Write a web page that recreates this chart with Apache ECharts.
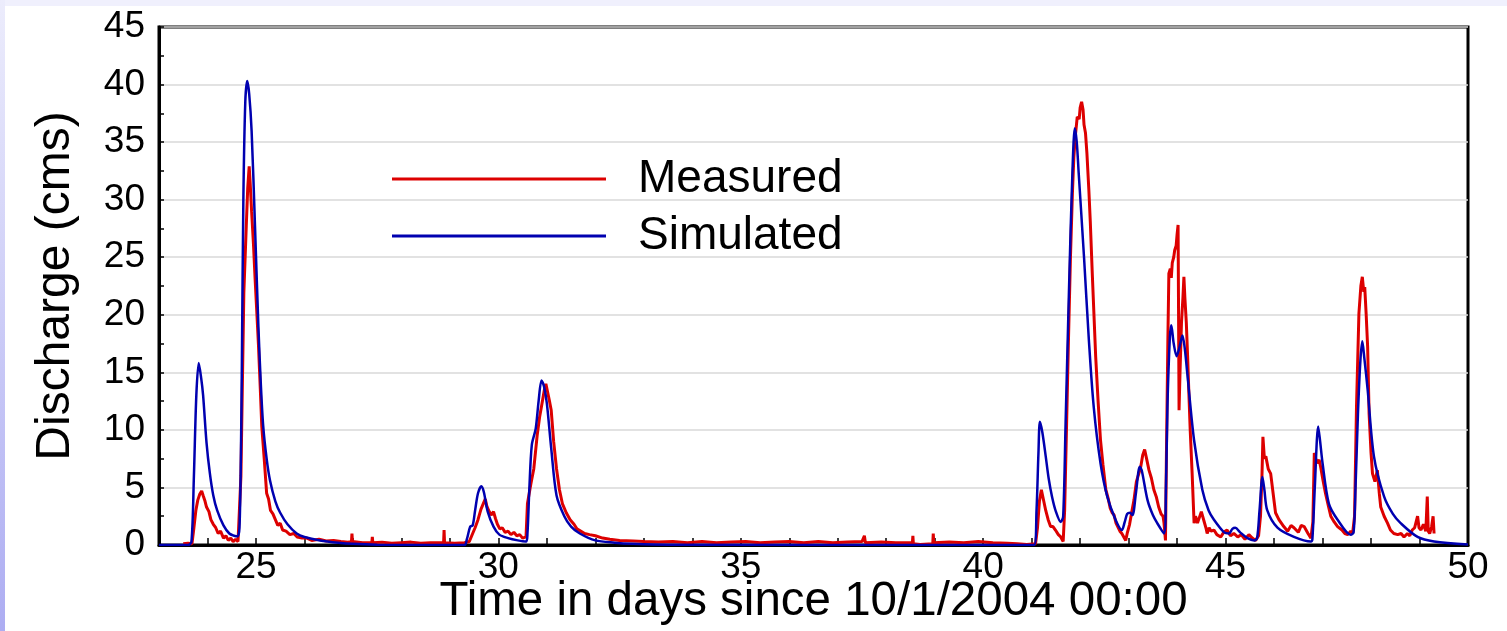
<!DOCTYPE html>
<html>
<head>
<meta charset="utf-8">
<script src="https://cdn.jsdelivr.net/npm/echarts@6/dist/echarts.min.js"></script>
<style>
html,body{margin:0;padding:0;background:#fff;}
#chart{width:1507px;height:631px;}
</style>
</head>
<body>
<div id="chart"></div>
<script>
var seriesNames = ['Measured', 'Simulated'];
var xTitle = 'Time in days since 10/1/2004 00:00';
var yTitle = 'Discharge (cms)';

var measuredDays = [23.5,23.6,23.68,23.72,23.76,23.8,23.84,23.88,23.91,23.95,23.98,24.03,24.07,24.12,24.17,24.22,24.27,24.33,24.38,24.43,24.48,24.53,24.58,24.63,24.67,24.69,24.72,24.75,24.8,24.83,24.86,24.88,24.91,24.95,24.98,25.02,25.05,25.09,25.12,25.17,25.22,25.26,25.3,25.35,25.4,25.45,25.5,25.55,25.62,25.7,25.78,25.85,25.95,26.05,26.15,26.3,26.45,26.6,26.75,26.9,26.97,26.98,26.99,27.2,27.39,27.4,27.41,27.6,27.8,28.0,28.2,28.4,28.6,28.87,28.88,28.89,29.1,29.3,29.4,29.47,29.52,29.58,29.64,29.7,29.73,29.76,29.8,29.85,29.9,29.94,29.98,30.03,30.08,30.14,30.2,30.26,30.32,30.38,30.44,30.5,30.57,30.6,30.67,30.73,30.8,30.85,30.9,30.95,30.98,31.01,31.05,31.09,31.14,31.2,31.26,31.32,31.4,31.48,31.56,31.62,31.68,31.78,31.88,32.0,32.15,32.3,32.5,32.78,33.0,33.3,33.6,33.9,34.2,34.5,34.8,35.1,35.4,35.7,36.0,36.3,36.6,36.9,37.2,37.5,37.55,37.57,37.9,38.2,38.54,38.55,38.56,38.7,38.96,38.97,38.98,39.3,39.6,39.9,40.2,40.5,40.7,40.9,41.08,41.12,41.16,41.2,41.24,41.29,41.34,41.39,41.44,41.49,41.55,41.6,41.65,41.68,41.72,41.76,41.8,41.84,41.87,41.9,41.94,41.98,42.0,42.03,42.06,42.08,42.11,42.14,42.18,42.21,42.25,42.28,42.32,42.37,42.42,42.47,42.53,42.58,42.62,42.66,42.7,42.74,42.77,42.82,42.86,42.9,42.94,42.97,43.02,43.07,43.11,43.16,43.21,43.25,43.29,43.33,43.37,43.42,43.47,43.52,43.57,43.62,43.67,43.71,43.73,43.76,43.78,43.81,43.83,43.86,43.88,43.9,43.93,43.95,43.98,44.0,44.02,44.03,44.04,44.06,44.09,44.12,44.14,44.16,44.19,44.22,44.24,44.27,44.31,44.35,44.38,44.42,44.46,44.5,44.52,44.56,44.6,44.62,44.66,44.7,44.76,44.82,44.9,44.96,45.03,45.1,45.17,45.25,45.32,45.4,45.48,45.55,45.62,45.68,45.72,45.75,45.77,45.8,45.83,45.88,45.93,45.98,46.03,46.1,46.2,46.28,46.35,46.41,46.5,46.56,46.62,46.7,46.76,46.8,46.83,46.86,46.89,46.93,46.96,47.01,47.06,47.12,47.17,47.24,47.31,47.4,47.46,47.52,47.58,47.62,47.66,47.7,47.75,47.79,47.82,47.85,47.87,47.9,47.93,47.96,48.0,48.03,48.08,48.13,48.17,48.2,48.27,48.34,48.4,48.47,48.55,48.62,48.68,48.75,48.8,48.85,48.9,48.93,48.96,48.99,49.03,49.08,49.13,49.16,49.18,49.21,49.25,49.28,49.3];
var measuredValues = [0.1,0.15,0.1,1.5,3.0,3.9,4.4,4.7,4.3,3.8,3.3,2.9,2.2,1.8,1.5,1.0,1.2,0.6,0.8,0.4,0.6,0.3,0.5,0.3,0.4,6,14,21.9,27.7,31,32.9,31.5,29,26,23.3,20,17.5,13.5,10.3,7.5,4.5,4.0,3.0,2.7,2.2,1.7,1.9,1.3,1.2,0.9,1.0,0.7,0.6,0.6,0.4,0.5,0.35,0.4,0.3,0.25,0.3,1.0,0.3,0.2,0.2,0.7,0.2,0.25,0.15,0.2,0.25,0.15,0.2,0.2,1.3,0.2,0.15,0.2,0.3,1.0,1.5,2.2,3.1,3.7,4.0,3.4,3.0,2.6,2.9,2.3,1.8,1.4,1.5,1.1,1.2,0.9,1.1,0.8,0.9,0.6,0.7,3.6,5.3,6.6,9.5,11.1,12.3,13.5,14.0,13.4,12.6,11.7,9.0,6.6,4.8,3.6,2.8,2.2,1.8,1.4,1.25,1.0,0.9,0.8,0.6,0.5,0.4,0.35,0.3,0.25,0.3,0.2,0.3,0.2,0.25,0.3,0.2,0.25,0.3,0.2,0.3,0.2,0.25,0.3,0.8,0.2,0.25,0.2,0.2,0.8,0.1,0.05,0.1,1.0,0.2,0.25,0.2,0.3,0.2,0.15,0.1,0.05,0.1,1.5,3.8,4.8,4.0,3.0,2.2,1.6,1.6,1.3,0.9,0.7,0.3,3,10.4,18,25,30.5,33.7,35.5,37.2,37.0,38.0,38.5,37.8,36.5,35.8,34.0,30.8,28,23.6,20.5,16.4,12.5,9.1,7.0,4.8,4.0,3.2,2.8,2.6,1.9,1.9,1.2,1.0,0.7,0.4,1.0,1.8,3.0,3.9,5.5,6.2,6.8,7.8,8.3,7.5,6.5,5.8,4.8,4.2,3.3,2.7,2.5,1.9,0.4,8,18,23.6,24.0,23.2,24.5,25.0,25.6,26.0,27.0,27.8,20,11.7,15,19.3,21.5,23.3,21.5,19.3,16,13.5,10,6.2,1.9,2.5,1.9,2.4,2.9,2.8,2.0,1.4,1.0,1.5,1.2,1.3,0.9,0.7,1.1,1.3,0.8,1.0,0.7,0.9,0.5,0.9,0.6,0.4,0.8,2.5,6,9.4,7.5,7.7,6.6,6.2,4.5,2.8,2.2,1.6,1.2,1.7,1.5,1.1,1.7,1.6,1.0,0.6,2,8.0,7.5,7.1,7.4,6.8,5.6,4.5,3.4,2.5,2.0,1.6,1.3,1.0,0.9,1.2,1.0,2.5,12,20.1,22.5,23.3,22.0,22.4,20.0,17.2,11.4,8.0,6.2,5.5,6.5,4.5,3.3,2.5,1.9,1.3,1.0,0.9,1.0,0.7,1.0,0.8,1.3,1.5,2.0,2.5,1.5,1.3,1.8,1.2,4.2,1.2,1.0,1.6,2.5,1.0];

var simulatedDays = [23.0,23.6,23.67,23.72,23.77,23.82,23.87,23.91,23.98,24.05,24.12,24.2,24.33,24.45,24.55,24.62,24.66,24.69,24.71,24.74,24.78,24.82,24.86,24.91,24.98,25.05,25.1,25.15,25.22,25.29,25.4,25.5,25.65,25.84,26.0,26.32,26.7,27.0,27.5,29.3,29.35,29.42,29.47,29.52,29.58,29.65,29.7,29.78,29.9,30.02,30.2,30.4,30.57,30.6,30.64,30.69,30.77,30.83,30.89,30.94,31.0,31.09,31.2,31.36,31.5,31.68,32.0,32.4,32.78,33.5,41.05,41.1,41.14,41.17,41.22,41.29,41.35,41.42,41.5,41.6,41.65,41.7,41.77,41.84,41.89,41.93,41.97,42.08,42.18,42.28,42.42,42.56,42.73,42.86,42.92,42.97,43.03,43.08,43.15,43.23,43.27,43.39,43.5,43.59,43.73,43.77,43.8,43.85,43.88,43.93,43.99,44.05,44.11,44.16,44.21,44.35,44.52,44.65,44.76,44.97,45.07,45.14,45.2,45.3,45.45,45.59,45.65,45.7,45.76,45.8,45.86,46.07,46.41,46.76,46.79,46.84,46.91,46.95,47.0,47.13,47.31,47.58,47.64,47.68,47.73,47.78,47.82,47.86,47.93,48.06,48.27,48.45,48.61,48.96,49.3,50];
var simulatedValues = [0,0,0.3,6,13,15.8,14.5,13.0,8.9,6.2,4.3,3.0,1.7,1.0,0.8,0.75,1.5,8,16,30,38.5,40.3,39.2,36.0,27.7,19.0,14,10.3,7.5,5.6,3.8,2.8,1.8,1.0,0.7,0.4,0.2,0.1,0.03,0,0.5,1.6,1.7,3.0,4.5,5.1,4.6,2.9,1.6,0.9,0.6,0.4,0.3,1.0,5,8.7,10.1,12.5,14.3,13.8,12.3,8.4,4.3,2.5,1.6,1.0,0.4,0.2,0.1,0.02,0,3,8,10.7,9.8,7.7,5.8,4.2,2.9,2.0,2.5,10.6,22.2,32.3,36.2,35.0,32.3,25,17.8,12,7.1,4.2,2.2,1.3,2.0,2.7,2.8,2.6,4.5,6.8,6.5,3.9,2.6,1.9,1.0,5,12,18,19.1,17.5,16.4,17.2,18.2,17,14.9,9.1,4.8,3.0,2.2,1.1,1.0,1.4,1.5,1.1,0.6,0.4,0.6,3,5.9,4.8,3.0,1.5,0.7,0.3,0.5,5,10.3,9.0,7.1,3.6,2.2,0.9,1.1,5,11.4,16,17.7,16.3,13.5,7.7,4.2,2.7,1.9,0.7,0.3,0.05];

var xMin = 23, xMax = 50, yMin = 0, yMax = 45;

function pairs(xs, ys) {
  var out = [];
  for (var i = 0; i < xs.length; i++) out.push([xs[i], ys[i]]);
  return out;
}

var FONT = 'Liberation Sans, Arial, sans-serif';
var chart = echarts.init(document.getElementById('chart'), null, {renderer: 'canvas'});
chart.setOption({
  animation: false,
  backgroundColor: '#ffffff',
  graphic: [
    {type: 'rect', left: 0, top: 0, z: -10, shape: {width: 1507, height: 6}, style: {fill: '#f0f0fd'}},
    {type: 'rect', left: 0, top: 0, z: -10, shape: {width: 5, height: 631},
      style: {fill: new echarts.graphic.LinearGradient(0, 0, 0, 1, [
        {offset: 0, color: '#ececfc'}, {offset: 1, color: '#adadf2'}])}}
  ],
  grid: {left: 159, right: 39, top: 27, bottom: 86, containLabel: false, outerBoundsMode: 'none',
    show: true, borderColor: '#000', borderWidth: 3, backgroundColor: 'transparent'},
  legend: {
    data: seriesNames,
    orient: 'vertical',
    left: 387,
    top: 151,
    itemWidth: 214,
    itemHeight: 3,
    itemGap: 11,
    icon: 'rect',
    textStyle: {fontFamily: FONT, fontSize: 46, lineHeight: 46, color: '#000', padding: [0, 0, 0, 27]}
  },
  xAxis: {
    type: 'value', min: xMin, max: xMax, interval: 1,
    name: xTitle, nameLocation: 'middle', nameGap: 33, nameMoveOverlap: false,
    nameTextStyle: {fontFamily: FONT, fontSize: 47.5, color: '#000'},
    axisLine: {show: true, lineStyle: {color: '#000', width: 3}},
    axisTick: {show: true, inside: true, length: 7, lineStyle: {color: '#000', width: 1.5}},
    axisLabel: {fontFamily: FONT, fontSize: 37, color: '#000', margin: 4,
      formatter: function (v) { return (v % 5 === 0) ? String(v) : ''; }},
    splitLine: {show: false}
  },
  yAxis: {
    type: 'value', min: yMin, max: yMax, interval: 5,
    name: yTitle, nameLocation: 'middle', nameGap: 79, nameMoveOverlap: false,
    nameTextStyle: {fontFamily: FONT, fontSize: 48, color: '#000'},
    axisLine: {show: true, lineStyle: {color: '#000', width: 3}},
    axisTick: {show: true, inside: true, length: 5, lineStyle: {color: '#000', width: 1.5}},
    minorTick: {show: true, splitNumber: 2, length: 5, lineStyle: {color: '#000', width: 1.5}},
    axisLabel: {fontFamily: FONT, fontSize: 37, color: '#000', margin: 14},
    splitLine: {show: true, lineStyle: {color: '#d8d8d8', width: 1.5}}
  },
  series: [
    {name: seriesNames[0], type: 'line', data: pairs(measuredDays, measuredValues),
      showSymbol: false, symbol: 'none', color: '#dd0000',
      lineStyle: {color: '#dd0000', width: 3}},
    {name: seriesNames[1], type: 'line', data: pairs(simulatedDays, simulatedValues),
      showSymbol: false, symbol: 'none', color: '#0000b0', smooth: 0.3,
      lineStyle: {color: '#0000b0', width: 2.5}}
  ]
});
</script>
</body>
</html>
